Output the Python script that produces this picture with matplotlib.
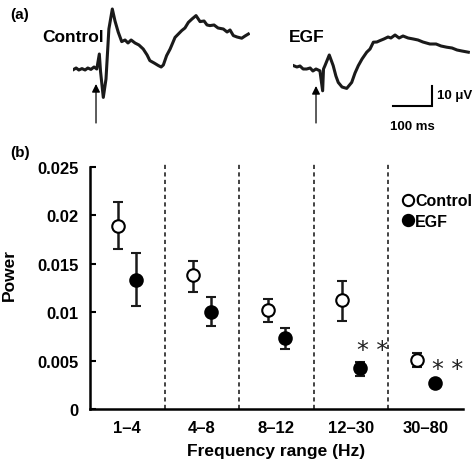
import matplotlib
matplotlib.use("Agg")
import matplotlib.pyplot as plt

plt.rcParams['font.family'] = ['Liberation Sans', 'DejaVu Sans']
plt.rcParams['font.weight'] = 'bold'
plt.rcParams['axes.labelweight'] = 'bold'

# (a) evoked traces, time in ms from stimulus, voltage in uV
ctrl_t = [-58, -51, -44, -36, -28, -21, -13, -5, 2, 8.5, 11.5, 18.7, 25.6, 33, 41.8,
          48.7, 57, 65.9, 74.4, 82, 90, 100, 110, 121, 131, 138, 149, 160, 167, 172.6,
          181, 190, 202.6, 219.7, 228, 236.7, 246, 256.4, 266.7, 277, 284.6, 292, 302.6,
          312.8, 326.4, 336, 343.6, 352, 361.5, 373.6, 382, 390.5]
ctrl_v = [-0.3, 0.5, -0.5, 0.2, -0.5, 0.5, -0.2, 1, 0, 7.5, -1, -14.2, -5, 20, 30,
          24, 18.4, 13.7, 14.5, 13, 14.5, 13, 12, 10, 7, 4.2, 3, 1.7, 1, 2,
          6.7, 10, 15.8, 19.2, 20.5, 23.3, 25, 26.7, 23.7, 24, 22, 21.7, 22,
          20.5, 20, 18.5, 19.5, 16.7, 16, 15.4, 16.5, 17.5]

egf_t = [-58, -49, -41, -33, -24, -15, -8, 0, 10, 17, 19.2, 23, 34, 44, 51, 57, 66.7,
         78.7, 91.5, 100, 108.5, 118, 130, 138.5, 147, 156, 164, 174, 184.6, 192, 202.6,
         213, 223, 236, 249.5, 261.5, 274, 292, 307.7, 320.5, 335, 348.7, 361.5, 374, 390.5]
egf_v = [0.7, 0, 0.5, -1, -1, -0.5, -2, -1, -1.9, -11.9, -1, 0.7, 6, 0.7, -4.5, -7.7, -10,
         -10.7, -7.7, -3, 0.7, 4, 7.4, 9, 12.4, 12.5, 13.2, 14, 15, 14.5, 16,
         14.5, 15.5, 14.5, 14, 13.5, 12.5, 11.5, 11.5, 10.5, 9.9, 9.5, 8.5, 8, 7.4]

# (b) power by frequency band
bands = ['1\u20134', '4\u20138', '8\u201312', '12\u201330', '30\u201380']
ctrl_mean = [0.0189, 0.0138, 0.0102, 0.0113, 0.0051]
ctrl_hi = [0.0214, 0.0153, 0.0114, 0.0132, 0.0058]
ctrl_lo = [0.0165, 0.0121, 0.0090, 0.0091, 0.0043]
egf_mean = [0.0133, 0.0100, 0.0073, 0.0042, 0.0027]
egf_hi = [0.0161, 0.0116, 0.0084, 0.0049, 0.0029]
egf_lo = [0.0106, 0.0086, 0.0062, 0.0034, 0.0025]
signif = [False, False, False, True, True]

W, H = 476, 464
fig = plt.figure(figsize=(W / 100, H / 100), dpi=100)

def px_axes(left, top, width, height):
    return fig.add_axes([left / W, 1 - (top + height) / H, width / W, height / H])

# traces
ax1 = px_axes(72.6, 0, 177.5, 130)
ax1.plot(ctrl_t, ctrl_v, color='#1a1a1a', lw=2.2)
ax1.set_xlim(-60, 395)
ax1.set_ylim(-30, 35)
ax1.axis('off')
ax1.annotate('', xy=(0, -7.5), xytext=(0, -27),
             arrowprops=dict(arrowstyle='-|>', color='black', lw=0.9,
                             mutation_scale=12, shrinkA=0, shrinkB=0))
ax1.text(20, 16, 'Control', fontsize=12.5, ha='right', va='center')

ax2 = px_axes(292.6, 0, 177.5, 130)
ax2.plot(egf_t, egf_v, color='#1a1a1a', lw=2.2)
ax2.set_xlim(-60, 395)
ax2.set_ylim(-31, 34)
ax2.axis('off')
ax2.annotate('', xy=(0, -9.5), xytext=(0, -28),
             arrowprops=dict(arrowstyle='-|>', color='black', lw=0.9,
                             mutation_scale=12, shrinkA=0, shrinkB=0))
ax2.text(-25, 15, 'EGF', fontsize=12.5, ha='center', va='center')
ax2.plot([197, 297, 297], [-19.5, -19.5, -9.5], color='black', lw=1.5,
         solid_joinstyle='miter', clip_on=False)
ax2.text(310, -14, '10 \u03bcV', fontsize=9.5, ha='left', va='center')
ax2.text(190, -29.5, '100 ms', fontsize=9.5, ha='left', va='center', clip_on=False)

fig.text(10 / W, 1 - 15 / H, '(a)', fontsize=11, ha='left', va='center')
fig.text(10 / W, 1 - 153 / H, '(b)', fontsize=11, ha='left', va='center')

# power panel
ax = fig.add_axes([90 / W, 54 / H, 373 / W, 246.8 / H])
x = [i + 0.5 for i in range(len(bands))]
xc = [v - 0.12 for v in x]
xe = [v + 0.12 for v in x]
c_err = [[m - l for m, l in zip(ctrl_mean, ctrl_lo)], [h - m for m, h in zip(ctrl_mean, ctrl_hi)]]
e_err = [[m - l for m, l in zip(egf_mean, egf_lo)], [h - m for m, h in zip(egf_mean, egf_hi)]]

for b in range(1, len(bands)):
    ax.axvline(b, color='#222222', lw=1.2, ls=(0, (2.5, 2)))

ax.errorbar(xc, ctrl_mean, yerr=c_err, fmt='o', ms=9, mfc='white', mec='black', mew=1.5,
            ecolor='#1a1a1a', elinewidth=1.8, capsize=3.8, capthick=1.8, label='Control', zorder=3)
ax.errorbar(xe, egf_mean, yerr=e_err, fmt='o', ms=9, mfc='black', mec='black', mew=1.5,
            ecolor='#1a1a1a', elinewidth=1.8, capsize=3.8, capthick=1.8, label='EGF', zorder=3)

for i, s in enumerate(signif):
    if s:
        ax.text(xe[i] + 0.17, egf_hi[i] + 0.0012, '* *', fontsize=17, fontweight='normal',
                family='DejaVu Sans', ha='center', va='center', color='#222222')

ax.set_xlim(0, 5)
ax.set_ylim(0, 0.0255)
ax.set_yticks([0, 0.005, 0.01, 0.015, 0.02, 0.025])
ax.set_yticklabels(['0', '0.005', '0.01', '0.015', '0.02', '0.025'])
ax.set_xticks(x)
ax.set_xticklabels(bands)
ax.tick_params(axis='y', direction='in', length=4, width=1.5, labelsize=12, pad=8)
ax.tick_params(axis='x', length=0, labelsize=12, pad=8)
ax.spines['top'].set_visible(False)
ax.spines['right'].set_visible(False)
ax.spines['left'].set_linewidth(1.8)
ax.spines['bottom'].set_linewidth(1.8)
ax.spines['left'].set_bounds(0, 0.025)
ax.set_xlabel('Frequency range (Hz)', fontsize=12.5, labelpad=6)
ax.set_ylabel('Power', fontsize=12.5)
ax.yaxis.set_label_coords(-0.195, 0.547)

handles, labels = ax.get_legend_handles_labels()
handles = [h[0] for h in handles]
ax.legend(handles, labels, loc='upper left', bbox_to_anchor=(0.822, 0.9), frameon=False,
          fontsize=11.5, handlelength=0.6, handletextpad=0.15, borderaxespad=0,
          labelspacing=0.35, markerscale=0.9)

fig.savefig('out.png', dpi=100)
